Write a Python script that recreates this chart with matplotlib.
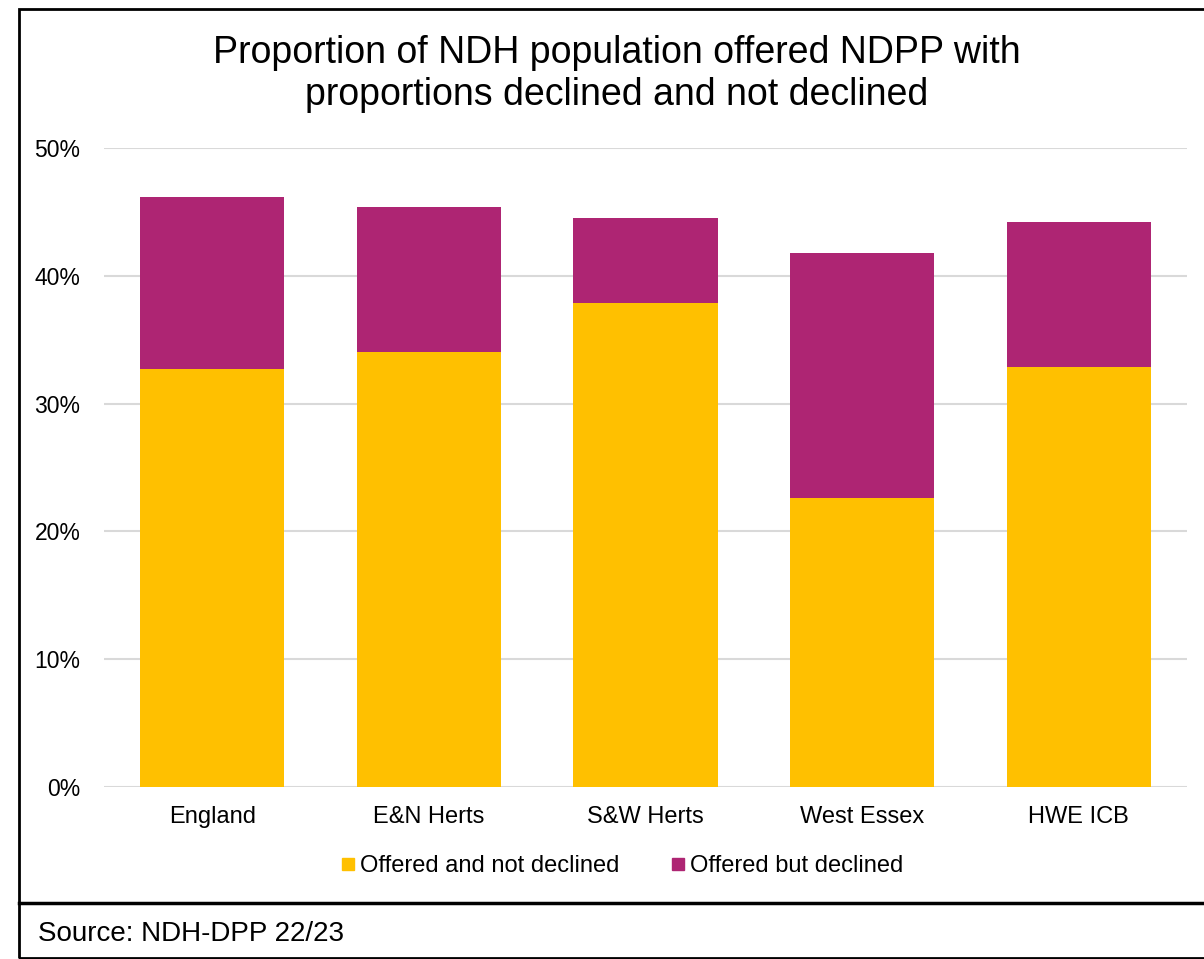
import matplotlib.pyplot as plt
from matplotlib.patches import Rectangle
from matplotlib.lines import Line2D
from matplotlib.ticker import PercentFormatter

plt.rcParams['font.family'] = ['Liberation Sans', 'DejaVu Sans']

# Share of NDH population offered NDPP, split by outcome (%)
areas = ["England", "E&N Herts", "S&W Herts", "West Essex", "HWE ICB"]
not_declined = [32.7, 34.0, 37.9, 22.6, 32.9]
declined = [13.5, 11.4, 6.6, 19.2, 11.3]

yellow = "#FFC000"
purple = "#AE2573"

fig = plt.figure(figsize=(12.04, 9.59), dpi=100)
ax = fig.add_axes([104 / 1204, 1 - 787 / 959, (1187 - 104) / 1204, (787 - 148) / 959])

x = range(len(areas))
ax.bar(x, not_declined, width=0.665, color=yellow, label="Offered and not declined", zorder=3)
ax.bar(x, declined, width=0.665, bottom=not_declined, color=purple,
       label="Offered but declined", zorder=3)

ax.set_ylim(0, 50)
ax.set_xlim(-0.5, len(areas) - 0.5)
ax.set_yticks(range(0, 51, 10))
ax.yaxis.set_major_formatter(PercentFormatter(decimals=0))
ax.grid(axis="y", color="#D9D9D9", linewidth=1.5, zorder=0)
ax.set_xticks(list(x))
ax.set_xticklabels(areas)
ax.tick_params(axis="both", length=0, colors="#000000")
ax.tick_params(axis="y", pad=17, labelsize=16.5)
ax.tick_params(axis="x", pad=14, labelsize=17)
for s in ax.spines.values():
    s.set_visible(False)

fig.text(617 / 1204, 1 - 74 / 959, "Proportion of NDH population offered NDPP with\nproportions declined and not declined",
         ha="center", va="center", fontsize=27, linespacing=1.22)

handles = [Line2D([], [], marker="s", linestyle="", color=yellow, markersize=9),
           Line2D([], [], marker="s", linestyle="", color=purple, markersize=9)]
fig.legend(handles, ["Offered and not declined", "Offered but declined"],
           loc="center", bbox_to_anchor=(620 / 1204, 1 - 866 / 959), ncol=2, frameon=False,
           fontsize=17, handletextpad=0.0, columnspacing=2.0, handlelength=1.0)

fig.text(38 / 1204, 1 - 934 / 959, "Source: NDH-DPP 22/23", ha="left", va="center", fontsize=20)

# outer frame and the divider above the source note
fig.add_artist(Rectangle((19 / 1204, 1 / 959), 1.0, 1 - 10 / 959, transform=fig.transFigure,
                         fill=False, edgecolor="black", linewidth=2))
fig.add_artist(Line2D([19 / 1204, 1], [1 - 903 / 959] * 2, transform=fig.transFigure,
                      color="black", linewidth=2.5))

fig.savefig("out.png", dpi=100)
